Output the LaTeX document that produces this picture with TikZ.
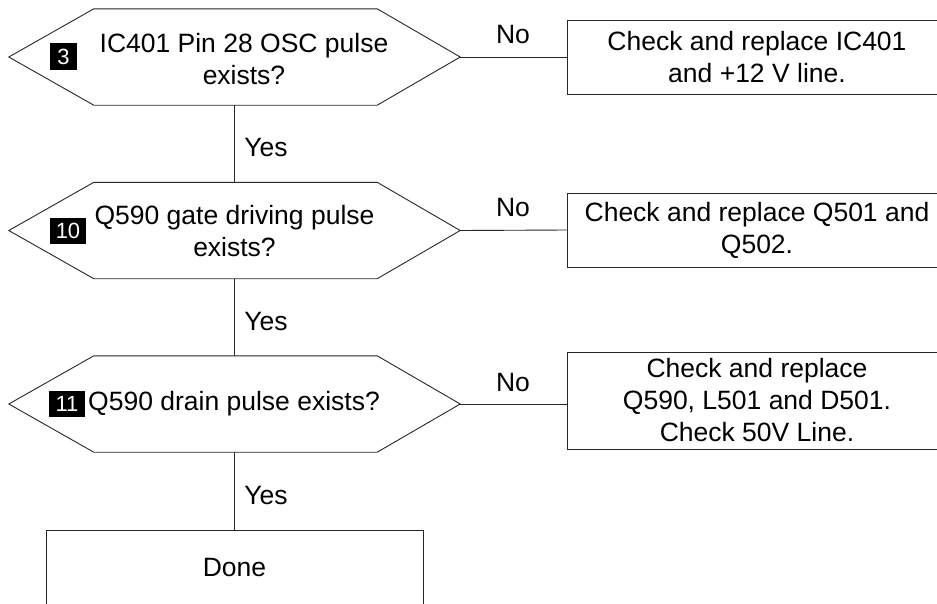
\documentclass[tikz,border=0pt]{standalone}
\usepackage{fontspec}
\setmainfont{Liberation Sans}
\newcommand\dgfont{\fontsize{26.5}{32}\selectfont}
\newcommand\dgnumfont{\fontsize{22}{24}\selectfont}
\tikzset{
  conn/.style={draw=black!85, line width=0.9pt},
  hexbox/.style={minimum width=451pt, minimum height=96pt, inner sep=0pt},
  hextext/.style={align=center, font=\dgfont, inner sep=0pt},
  numbox/.style={fill=black, text=white, font=\dgnumfont, inner sep=0pt, minimum height=26pt},
  actbox/.style={draw=black!85, line width=0.9pt, minimum width=380pt, minimum height=74pt, inner sep=0pt, align=center, font=\dgfont},
  lbl/.style={font=\dgfont, inner sep=0pt}
}
\begin{document}
\begin{tikzpicture}[x=1pt,y=-1pt]
\useasboundingbox (0,0) rectangle (937,603);
\clip (0,0) rectangle (937,603);

% decision hexagons (frames)
\node[hexbox] (h1) at (234.5,57) {};
\node[hexbox] (h2) at (234.5,230.5) {};
\node[hexbox] (h3) at (234.5,404) {};
\foreach \n in {h1,h2,h3}
  \draw[conn] (\n.west) -- ([xshift=85pt]\n.north west) -- ([xshift=-83pt]\n.north east)
    -- (\n.east) -- ([xshift=-83pt]\n.south east) -- ([xshift=85pt]\n.south west) -- cycle;

% texts in hexagons
\node[hextext] (t1) at (244,59) {IC401 Pin 28 OSC pulse\\exists?};
\node[hextext] (t2) at (234.5,231.5) {Q590 gate driving pulse\\exists?};
\node[hextext] (t3) at (234,404) {Q590 drain pulse exists?};

% step numbers
\node[numbox, minimum width=27pt, minimum height=27pt] (n1) at (63.5,56.5) {3};
\node[numbox, minimum width=36pt] (n2) at (68,231) {10};
\node[numbox, minimum width=36pt] (n3) at (67,404) {11};

% action boxes
\node[actbox] (b1) at (757,57) {Check and replace IC401\\and +12 V line.};
\node[actbox] (b2) at (757,230) {Check and replace Q501 and\\Q502.};
\node[actbox, minimum height=97pt] (b3) at (757,400.5) {Check and replace\\Q590, L501 and D501.\\Check 50V Line.};
\node[actbox, minimum width=377pt, minimum height=76pt] (done) at (234.5,568) {Done};

% connectors
\draw[conn] (h1.east) -- (b1.west);
\draw[conn] (h2.east) -- (b2.west);
\draw[conn] (h3.east) -- (h3.east -| b3.west);
\draw[conn] (h1.south) -- (h2.north);
\draw[conn] (h2.south) -- (h3.north);
\draw[conn] (h3.south) -- (done.north);

% labels
\node[lbl] (no1) at (513,35) {No};
\node[lbl] (no2) at (513,208) {No};
\node[lbl] (no3) at (513,383) {No};
\node[lbl] (y1) at (266,148) {Yes};
\node[lbl] (y2) at (266,322) {Yes};
\node[lbl] (y3) at (266,496) {Yes};
\end{tikzpicture}
\end{document}
